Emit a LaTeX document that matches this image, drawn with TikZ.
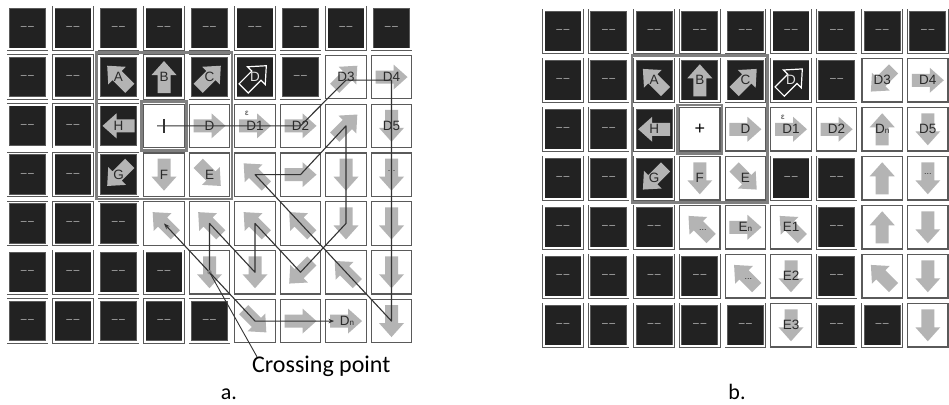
\documentclass[tikz,border=0pt]{standalone}
\usepackage{fontspec}
\setmainfont{Liberation Sans}
\newfontfamily\calfont{Carlito}
\usetikzlibrary{arrows.meta,calc}
\definecolor{darkfill}{HTML}{222222}
\definecolor{cellline}{HTML}{5A5A5A}
\definecolor{arrowgray}{HTML}{B4B4B4}
\definecolor{framegray}{HTML}{7F7F7F}
\definecolor{pathcol}{HTML}{333333}
\definecolor{labcol}{HTML}{2A2A2A}
\definecolor{dashgray}{HTML}{C4C4C4}
\newcommand\gridrow[6]{%
  \foreach \t [count=\c] in {#6} {%
    \if\t d\node[darkcell] (#1-\c-#5) at ({#2+(\c-1)*#3}, #4) {\textendash\hspace{1.5pt}\textendash};\fi
    \if\t k\node[darkcell] (#1-\c-#5) at ({#2+(\c-1)*#3}, #4) {};\fi
    \if\t w\node[whitecell] (#1-\c-#5) at ({#2+(\c-1)*#3}, #4) {};\fi
  }}
\newcommand\arr[2]{\pic[rotate=#2] at (#1) {blk};}
\newcommand\lab[2]{\node[lab] (lbl-#1) at (#1) {#2};}
\newcommand\dotlab[1]{\node[lab, font=\fontsize{9}{9}\selectfont] (dots-#1) at ([yshift=4pt]#1.center) {...};}
\begin{document}
\begin{tikzpicture}[x=1pt,y=-1pt,
  darkcell/.style={draw=cellline, line width=0.8pt, double=white, double distance=1.6pt,
    fill=darkfill, minimum width=38.5pt, minimum height=42pt, inner sep=0pt,
    text=dashgray, font=\fontsize{10.5}{10.5}\selectfont},
  whitecell/.style={draw=cellline, line width=1.2pt, fill=white,
    minimum width=40.5pt, minimum height=43.5pt, inner sep=0pt},
  lab/.style={inner sep=0pt, text=labcol, font=\fontsize{13.5}{13.5}\selectfont},
  blk/.pic={\fill[arrowgray] (-16,-6.5) -- (2,-6.5) -- (2,-12.5) -- (16,0) -- (2,12.5) -- (2,6.5) -- (-16,6.5) -- cycle;},
  hollowarr/.pic={\filldraw[draw=white, line width=1.2pt, fill=darkfill] (-16,-6.5) -- (2,-6.5) -- (2,-12.5) -- (16,0) -- (2,12.5) -- (2,6.5) -- (-16,6.5) -- cycle;},
  pathline/.style={draw=pathcol, line width=1.1pt, line join=round},
  frame/.style={draw=framegray, line width=2.6pt},
]
\fill[white] (0,0) rectangle (949,404);
\useasboundingbox (0,0) rectangle (949,404);

% ---------------- grid a ----------------
\gridrow{a}{27.5}{45.5}{28.25}{1}{d,d,d,d,d,d,d,d,d}
\gridrow{a}{27.5}{45.5}{77.05}{2}{d,d,k,k,k,k,d,w,w}
\gridrow{a}{27.5}{45.5}{125.85}{3}{d,d,k,w,w,w,w,w,w}
\gridrow{a}{27.5}{45.5}{174.65}{4}{d,d,k,w,w,w,w,w,w}
\gridrow{a}{27.5}{45.5}{223.45}{5}{d,d,d,w,w,w,w,w,w}
\gridrow{a}{27.5}{45.5}{272.25}{6}{d,d,d,d,w,w,w,w,w}
\gridrow{a}{27.5}{45.5}{321.05}{7}{d,d,d,d,d,w,w,w,w}

% ---------------- grid b ----------------
\gridrow{b}{563}{45.6}{31.25}{1}{d,d,d,d,d,d,d,d,d}
\gridrow{b}{563}{45.6}{80.25}{2}{d,d,k,k,k,k,d,w,w}
\gridrow{b}{563}{45.6}{129.25}{3}{d,d,k,w,w,w,w,w,w}
\gridrow{b}{563}{45.6}{178.25}{4}{d,d,k,w,w,d,d,w,w}
\gridrow{b}{563}{45.6}{227.25}{5}{d,d,d,w,w,w,d,w,w}
\gridrow{b}{563}{45.6}{276.25}{6}{d,d,d,d,w,w,d,w,w}
\gridrow{b}{563}{45.6}{325.25}{7}{d,d,d,d,d,w,d,d,w}

% frames
\draw[frame] (96.2,52.7) rectangle (231.8,199);
\draw[frame] (141.7,101.5) rectangle (186.3,150.2);
\draw[frame] (631.9,55.8) rectangle (767.7,202.7);
\draw[frame] (677.5,104.8) rectangle (722.1,153.7);

% ---------------- arrows a ----------------
\arr{a-3-2}{135} \arr{a-4-2}{90} \arr{a-5-2}{45}
\pic[rotate=45] at (a-6-2) {hollowarr};
\arr{a-8-2}{45} \arr{a-9-2}{0}
\arr{a-3-3}{180} \arr{a-5-3}{0} \arr{a-6-3}{0} \arr{a-7-3}{0} \arr{a-8-3}{45} \arr{a-9-3}{270}
\arr{a-3-4}{225} \arr{a-4-4}{270} \arr{a-5-4}{315} \arr{a-6-4}{135} \arr{a-7-4}{0} \arr{a-8-4}{270} \arr{a-9-4}{270}
\arr{a-4-5}{135} \arr{a-5-5}{135} \arr{a-6-5}{135} \arr{a-7-5}{135} \arr{a-8-5}{270} \arr{a-9-5}{270}
\arr{a-5-6}{270} \arr{a-6-6}{270} \arr{a-7-6}{225} \arr{a-8-6}{135} \arr{a-9-6}{270}
\arr{a-6-7}{315} \arr{a-7-7}{0} \arr{a-8-7}{0} \arr{a-9-7}{270}

% ---------------- arrows b ----------------
\arr{b-3-2}{135} \arr{b-4-2}{90} \arr{b-5-2}{45}
\pic[rotate=45] at (b-6-2) {hollowarr};
\arr{b-8-2}{225} \arr{b-9-2}{0}
\arr{b-3-3}{180} \arr{b-5-3}{0} \arr{b-6-3}{0} \arr{b-7-3}{0} \arr{b-8-3}{90} \arr{b-9-3}{270}
\arr{b-3-4}{225} \arr{b-4-4}{270} \arr{b-5-4}{315} \arr{b-8-4}{90} \arr{b-9-4}{270}
\arr{b-4-5}{135} \arr{b-5-5}{0} \arr{b-6-5}{135} \arr{b-8-5}{90} \arr{b-9-5}{270}
\arr{b-5-6}{135} \arr{b-6-6}{270} \arr{b-8-6}{135} \arr{b-9-6}{270}
\arr{b-6-7}{270} \arr{b-9-7}{270}

% ---------------- labels a ----------------
\lab{a-3-2}{A} \lab{a-4-2}{B} \lab{a-5-2}{C}
\node[lab, text=white!88!black] (lbl-a-6-2) at (a-6-2) {D};
\lab{a-8-2}{D3} \lab{a-9-2}{D4}
\lab{a-3-3}{H} \lab{a-5-3}{D} \lab{a-6-3}{D1} \lab{a-7-3}{D2} \lab{a-9-3}{D5}
\node[lab, font=\fontsize{8}{8}\selectfont] (eps-a) at ([xshift=-8pt,yshift=12pt]a-6-3.center) {ε};
\lab{a-3-4}{G} \lab{a-4-4}{F} \lab{a-5-4}{E}
\dotlab{a-9-4}
\node[lab] (lbl-a-8-7) at ([xshift=1pt]a-8-7.center) {D\raisebox{0.5pt}{\fontsize{8}{8}\selectfont n}};

% ---------------- labels b ----------------
\lab{b-3-2}{A} \lab{b-4-2}{B} \lab{b-5-2}{C}
\node[lab, text=white!88!black] (lbl-b-6-2) at (b-6-2) {D};
\lab{b-8-2}{D3} \lab{b-9-2}{D4}
\lab{b-3-3}{H}
\node[inner sep=0pt, font=\fontsize{18}{18}\selectfont] (plus-b) at (b-4-3) {+};
\lab{b-5-3}{D} \lab{b-6-3}{D1} \lab{b-7-3}{D2} \lab{b-9-3}{D5}
\node[lab, font=\fontsize{8}{8}\selectfont] (eps-b) at ([xshift=-8pt,yshift=12pt]b-6-3.center) {ε};
\node[lab] (lbl-b-8-3) at (b-8-3) {D\raisebox{0.5pt}{\fontsize{8}{8}\selectfont n}};
\lab{b-3-4}{G} \lab{b-4-4}{F} \lab{b-5-4}{E}
\dotlab{b-9-4}
\node[lab, font=\fontsize{9}{9}\selectfont] (dots-b-4-5) at ([xshift=3pt,yshift=-3pt]b-4-5.center) {...};
\node[lab] (lbl-b-5-5) at (b-5-5) {E\raisebox{0.5pt}{\fontsize{8}{8}\selectfont n}};
\lab{b-6-5}{E1}
\node[lab, font=\fontsize{9}{9}\selectfont] (dots-b-5-6) at ([xshift=3pt,yshift=-3pt]b-5-6.center) {...};
\lab{b-6-6}{E2} \lab{b-6-7}{E3}

% ---------------- path in a ----------------
\draw[pathline] ([yshift=7pt]a-4-3.center) -- ([yshift=-7pt]a-4-3.center);
\draw[pathline, -{Stealth[length=5.5pt,width=4.5pt]}]
  ([xshift=-7pt]a-4-3.center) -- (a-7-3.center) -- ([yshift=-3pt]a-8-2.center)
  -- ([yshift=-3pt]a-9-2.center) -- (a-9-7.center) -- (a-6-4.center) -- (a-7-4.center)
  -- (a-8-3.center) -- (a-8-5.center) -- (a-7-6.center) -- (a-6-5.center) -- (a-6-6.center)
  -- (a-5-5.center) -- (a-5-6.center) -- (a-6-7.center) -- ([xshift=-12pt]a-8-7.center);
\draw[pathline, -{Stealth[length=6pt,width=4.5pt]}] (a-5-6.center) -- (a-4-5.center);
\fill[gray] (a-5-6.center) circle (2.2);

\node[font=\calfont\fontsize{24}{24}\selectfont, anchor=base west, inner sep=0pt] (cross) at (252,372.5) {Crossing point};
\draw[pathline, line width=0.9pt] ([xshift=5pt,yshift=-1pt]cross.north west) -- (a-5-6.center);

\node[font=\calfont\fontsize{22}{22}\selectfont, anchor=base, inner sep=0pt] (capa) at (229,399) {a.};
\node[font=\calfont\fontsize{22}{22}\selectfont, anchor=base, inner sep=0pt] (capb) at (737,399) {b.};
\end{tikzpicture}
\end{document}
